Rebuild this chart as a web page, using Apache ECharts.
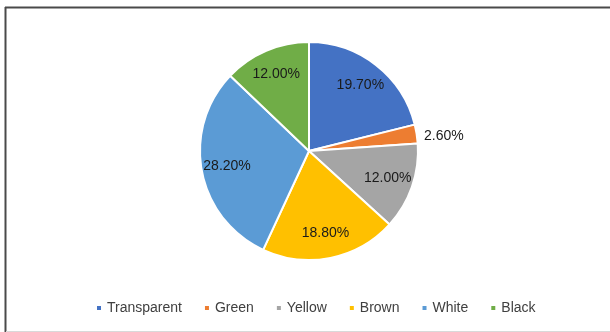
<!DOCTYPE html>
<html>
<head>
<meta charset="utf-8">
<style>
  html, body { margin: 0; padding: 0; background: #fff; }
  #chart { width: 610px; height: 332px; }
</style>
<script src="https://cdn.jsdelivr.net/npm/echarts@6/dist/echarts.min.js"></script>
</head>
<body>
<div id="chart"></div>
<script>
// Share of each colour (percent as labelled)
const categories = ['Transparent', 'Green', 'Yellow', 'Brown', 'White', 'Black'];
const values = [19.7, 2.6, 12.0, 18.8, 28.2, 12.0];
const colors = ['#4472C4', '#ED7D31', '#A5A5A5', '#FFC000', '#5B9BD5', '#70AD47'];

const CX = 309, CY = 151, R = 109;
const FONT = '"Liberation Sans", Arial, sans-serif';

const data = categories.map((name, i) => {
  const item = { name, value: values[i], itemStyle: { color: colors[i] } };
  if (name === 'Green') {
    // thin slice: label sits just outside the rim
    item.label = { position: 'outside', distance: 2, alignTo: 'none' };
    item.labelLine = { show: false, length: 2, length2: 0 };
  }
  return item;
});

const chart = echarts.init(document.getElementById('chart'), null, { renderer: 'canvas' });
chart.setOption({
  animation: false,
  backgroundColor: '#ffffff',
  graphic: [
    { type: 'line', shape: { x1: 5, y1: 7.5, x2: 610, y2: 7.5 }, style: { stroke: '#4a4a4a', lineWidth: 2 } },
    { type: 'line', shape: { x1: 5.5, y1: 7, x2: 5.5, y2: 332 }, style: { stroke: '#4a4a4a', lineWidth: 2 } },
    { type: 'line', shape: { x1: 6, y1: 331.5, x2: 610, y2: 331.5 }, style: { stroke: '#d9d9d9', lineWidth: 1 } }
  ],
  legend: {
    data: categories,
    bottom: 12,
    left: 90,
    icon: 'rect',
    itemWidth: 6,
    itemHeight: 6,
    itemGap: 21,
    textStyle: { fontFamily: FONT, fontSize: 14, color: '#404040' }
  },
  series: [{
    type: 'pie',
    center: [CX, CY],
    radius: [0, R],
    startAngle: 90,
    clockwise: true,
    avoidLabelOverlap: false,
    itemStyle: { borderColor: '#ffffff', borderWidth: 2 },
    label: {
      show: true,
      position: 'inside',
      fontFamily: FONT,
      fontSize: 14,
      color: '#1a1a1a',
      formatter: p => p.value.toFixed(2) + '%'
    },
    labelLayout: function (params) {
      const lr = params.labelRect;
      if (params.dataIndex === 1) {
        // keep the small slice's label snug against the rim
        return { x: CX + R + 6, y: lr.y + lr.height / 2 + 2, align: 'left', verticalAlign: 'middle' };
      }
      // push inside labels further out towards the rim
      const lx = lr.x + lr.width / 2, ly = lr.y + lr.height / 2;
      const k = 1.45;
      return { x: CX + (lx - CX) * k, y: CY + (ly - CY) * k };
    },
    data: data
  }]
});
</script>
</body>
</html>
